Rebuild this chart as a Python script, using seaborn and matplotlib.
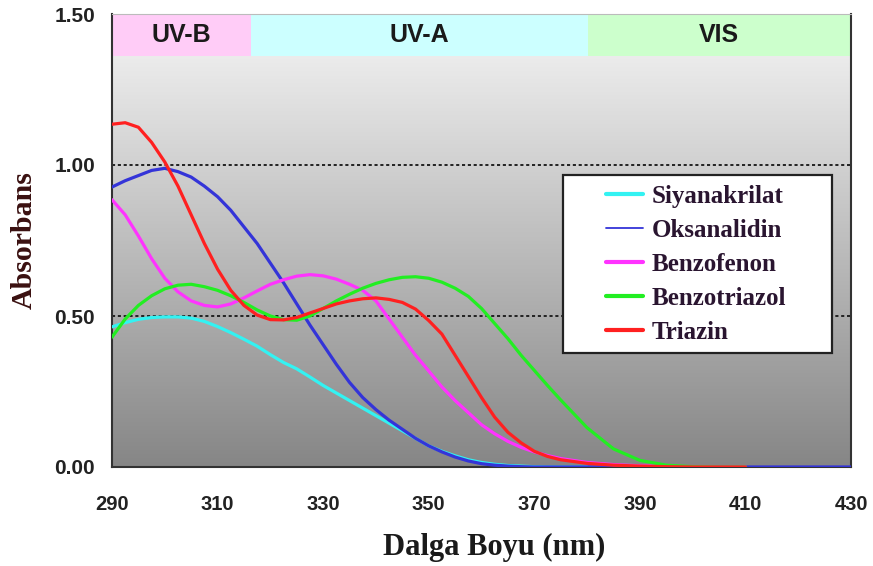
import numpy as np
import pandas as pd
import seaborn as sns
import matplotlib.pyplot as plt
from matplotlib.colors import LinearSegmentedColormap
from matplotlib.patches import Rectangle

# wavelength grids (nm): 2.5 nm steps up to 375, then 5 nm
wl_fine = [290, 292.5, 295, 297.5, 300, 302.5, 305, 307.5, 310, 312.5, 315,
           317.5, 320, 322.5, 325, 327.5, 330, 332.5, 335, 337.5, 340, 342.5,
           345, 347.5, 350, 352.5, 355, 357.5, 360, 362.5, 365, 367.5, 370,
           372.5, 375]
wl_cyan = wl_fine + [380]
wl_mid = wl_fine + [380, 385, 390, 395, 400, 405, 410]
wl_blue = wl_mid + [415, 420, 425, 430]

# absorbance values
siyanakrilat = [0.464, 0.478, 0.489, 0.495, 0.497, 0.497, 0.493, 0.482, 0.465,
                0.445, 0.423, 0.40, 0.372, 0.346, 0.325, 0.298, 0.27, 0.245,
                0.22, 0.195, 0.17, 0.145, 0.12, 0.095, 0.07, 0.052, 0.037,
                0.024, 0.015, 0.009, 0.005, 0.003, 0.001, 0.0, 0.0, 0.0]
oksanalidin = [0.927, 0.948, 0.965, 0.982, 0.989, 0.978, 0.96, 0.93, 0.895,
               0.85, 0.795, 0.74, 0.675, 0.61, 0.54, 0.47, 0.405, 0.34, 0.28,
               0.23, 0.19, 0.155, 0.125, 0.095, 0.07, 0.05, 0.033, 0.02, 0.011,
               0.006, 0.003, 0.001, 0.0, 0.0, 0.0,
               0.0, 0.0, 0.0, 0.0, 0.0, 0.0, 0.0, 0.0, 0.0, 0.0, 0.0]
benzofenon = [0.885, 0.835, 0.765, 0.69, 0.625, 0.58, 0.55, 0.535, 0.53, 0.54,
              0.56, 0.583, 0.605, 0.62, 0.632, 0.637, 0.633, 0.622, 0.605,
              0.585, 0.55, 0.49, 0.43, 0.37, 0.318, 0.265, 0.22, 0.18, 0.14,
              0.11, 0.085, 0.065, 0.05, 0.038, 0.028,
              0.015, 0.008, 0.004, 0.002, 0.001, 0.0, 0.0]
benzotriazol = [0.43, 0.49, 0.535, 0.567, 0.59, 0.602, 0.605, 0.597, 0.585,
                0.567, 0.545, 0.52, 0.50, 0.488, 0.486, 0.50, 0.525, 0.55,
                0.572, 0.592, 0.608, 0.62, 0.628, 0.63, 0.625, 0.612, 0.592,
                0.565, 0.525, 0.475, 0.425, 0.37, 0.32, 0.27, 0.222,
                0.13, 0.06, 0.022, 0.006, 0.001, 0.0, 0.0]
triazin = [1.135, 1.14, 1.125, 1.075, 1.01, 0.93, 0.835, 0.74, 0.655, 0.585,
           0.535, 0.503, 0.488, 0.487, 0.495, 0.51, 0.525, 0.54, 0.55, 0.557,
           0.56, 0.555, 0.545, 0.523, 0.485, 0.44, 0.37, 0.30, 0.23, 0.165,
           0.115, 0.08, 0.052, 0.035, 0.024,
           0.012, 0.006, 0.003, 0.001, 0.0, 0.0, 0.0]

series_names = ["Siyanakrilat", "Oksanalidin", "Benzofenon", "Benzotriazol", "Triazin"]
series_colors = ["#33f2f2", "#3434d8", "#ff33ff", "#22ee22", "#ff2020"]

# spectral bands across the top
band_names = ["UV-B", "UV-A", "VIS"]
band_start = [290, 316.4, 380.1]
band_end = [316.4, 380.1, 430]
band_colors = ["#ffccf7", "#ccffff", "#ccffcc"]

x_ticks = [290, 310, 330, 350, 370, 390, 410, 430]
y_ticks = [0.0, 0.5, 1.0, 1.5]

frames = []
for name, wl, vals in zip(series_names,
                          [wl_cyan, wl_blue, wl_mid, wl_mid, wl_mid],
                          [siyanakrilat, oksanalidin, benzofenon, benzotriazol, triazin]):
    frames.append(pd.DataFrame({"wl": wl, "abs": vals, "madde": name}))
df = pd.concat(frames, ignore_index=True)

sns.set_style("white")
fig = plt.figure(figsize=(8.73, 5.66), dpi=100)
ax = fig.add_axes([112 / 873, 99 / 566, 739 / 873, 453 / 566])

# grey gradient background
grad = np.linspace(0, 1, 256).reshape(-1, 1)
cmap = LinearSegmentedColormap.from_list("bg", ["#868686", "#f6f6f6"])
ax.imshow(grad, cmap=cmap, origin="lower", aspect="auto",
          extent=(290, 430, 0, 1.5), zorder=0)

# bands
for name, a, b, c in zip(band_names, band_start, band_end, band_colors):
    ax.fill_between([a, b], 1.36, 1.5, color=c, lw=0, zorder=1)
    ax.text((a + b) / 2, 1.43, name, ha="center", va="center",
            fontsize=18, fontweight="bold", color="#1a1a1a",
            family="Liberation Sans", zorder=2)

for yv in [0.5, 1.0]:
    ax.axhline(yv, color="#222222", lw=1.4, ls=(0, (1.6, 1.4)), zorder=1)

sns.lineplot(data=df, x="wl", y="abs", hue="madde", hue_order=series_names,
             palette=dict(zip(series_names, series_colors)), estimator=None,
             lw=2.3, ax=ax, zorder=3)

ax.set_xlim(290, 430)
ax.set_ylim(0, 1.5)
ax.set_xticks(x_ticks)
ax.set_yticks(y_ticks)
ax.set_yticklabels([f"{v:.2f}" for v in y_ticks])
ax.tick_params(axis="x", direction="out", length=5.8, width=1.3, pad=14,
               colors="#333333", labelsize=14.5, labelcolor="#222222")
ax.tick_params(axis="y", direction="out", length=4.3, width=1.3, pad=8,
               colors="#333333", labelsize=15, labelcolor="#222222")
for lab in ax.get_xticklabels() + ax.get_yticklabels():
    lab.set_fontweight("bold")
    lab.set_family("Liberation Sans")

for side in ["left", "right", "bottom"]:
    ax.spines[side].set_color("#333333")
    ax.spines[side].set_linewidth(1.5)
ax.spines["top"].set_color("#bbbbbb")
ax.spines["top"].set_linestyle((0, (1, 1)))

ax.set_xlabel("Dalga Boyu (nm)", fontsize=22, fontweight="bold",
              family="Liberation Serif", color="#1a1a1a")
ax.set_ylabel("Absorbans", fontsize=21.5, fontweight="bold",
              family="Liberation Serif", color="#3a1010")
ax.xaxis.set_label_coords(0.517, -0.145)
ax.yaxis.set_label_coords(-0.10, 0.5)

# legend box
ax.add_patch(Rectangle((0.6103, 0.2517), 0.364, 0.393, transform=ax.transAxes,
                       facecolor="white", edgecolor="#222222", lw=1.6, zorder=4))
handles, labels = ax.get_legend_handles_labels()
leg = ax.legend(handles, labels, loc="upper left", bbox_to_anchor=(0.652, 0.65),
                frameon=False, handlelength=1.45, handletextpad=0.35,
                labelspacing=0.44, borderpad=0,
                prop={"family": "Liberation Serif", "weight": "bold", "size": 18})
leg.set_zorder(5)
for t in leg.get_texts():
    t.set_color("#2a1530")
for i, ln in enumerate(leg.get_lines()):
    ln.set_linewidth(1.3 if i == 1 else 3)

fig.savefig("out.png", dpi=100)
